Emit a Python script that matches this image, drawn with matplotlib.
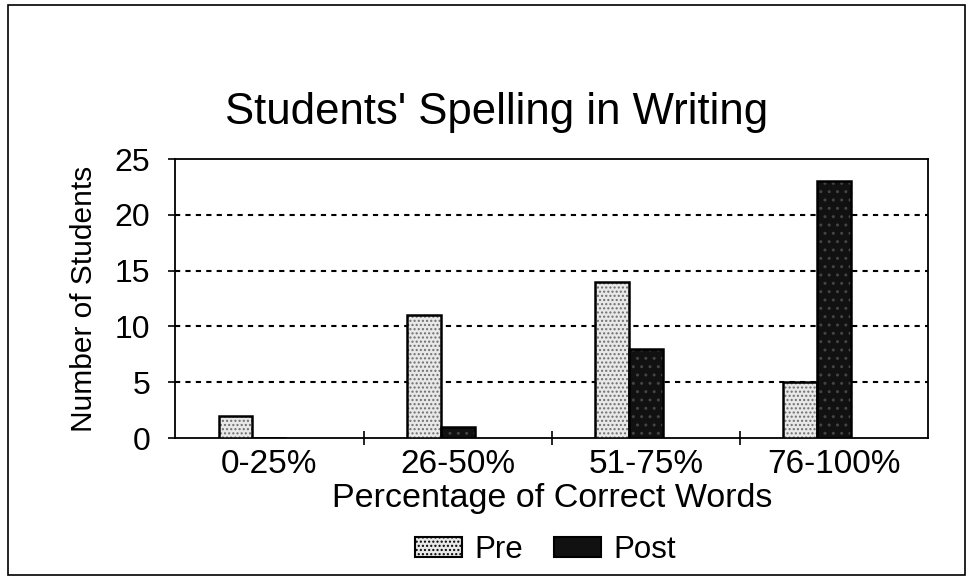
import matplotlib.pyplot as plt
import matplotlib.patches as mpatches
import numpy as np

plt.rcParams['font.family'] = ['Liberation Sans', 'DejaVu Sans']

categories = ["0-25%", "26-50%", "51-75%", "76-100%"]
pre = [2, 11, 14, 5]
post = [0, 1, 8, 23]

fig = plt.figure(figsize=(9.74, 5.82), dpi=100)
ax = fig.add_axes([0.180, 0.2474, 0.773, 0.4794])

x = np.arange(len(categories))
w = 0.18
# Pre: light stipple, Post: dark
ax.bar(x - w, pre, w, color="#e8e8e8", edgecolor="#6e6e6e", hatch="....", lw=0, zorder=3)
ax.bar(x - w, pre, w, fill=False, edgecolor="black", lw=1.8, zorder=4)
ax.bar(x, post, w, color="#111111", edgecolor="#444444", hatch="..", lw=0, zorder=3)
ax.bar(x, post, w, fill=False, edgecolor="black", lw=1.8, zorder=4)

ax.set_xlim(-0.5, 3.5)
ax.set_ylim(0, 25)
ax.set_yticks([0, 5, 10, 15, 20, 25])
ax.set_xticks(x)
ax.set_xticklabels(categories, fontsize=24)
ax.set_xticks([0.5, 1.5, 2.5], minor=True)
ax.tick_params(axis="x", which="major", length=0, pad=8)
ax.tick_params(axis="x", which="minor", direction="inout", length=10, width=1.2)
ax.tick_params(axis="y", labelsize=23, direction="out", length=5, width=1.2, pad=13)
for y in [5, 10, 15, 20]:
    ax.axhline(y, color="black", lw=1.5, ls=(0, (2.5, 2.5)), zorder=2)
for s in ax.spines.values():
    s.set_linewidth(1.3)

ax.set_ylabel("Number of Students", fontsize=21.5, labelpad=12)
ax.set_xlabel("Percentage of Correct Words", fontsize=24.5, labelpad=2)
fig.text(0.51, 1 - 124 / 582, "Students' Spelling in Writing", fontsize=31.5,
         ha="center", va="baseline")

h_pre = mpatches.Patch(facecolor="#e8e8e8", edgecolor="black", hatch="....", lw=1.5)
h_post = mpatches.Patch(facecolor="#111111", edgecolor="black", lw=1.5)
fig.legend([h_pre, h_post], ["Pre", "Post"], loc="center", bbox_to_anchor=(0.56, 0.055),
           ncol=2, frameon=False, fontsize=22.5, handlelength=1.5, handleheight=0.65,
           columnspacing=1.0, handletextpad=0.4)

fig.patches.append(mpatches.Rectangle((0.008, 0.012), 0.983, 0.98, transform=fig.transFigure,
                                      fill=False, edgecolor="black", lw=1.2))

fig.savefig("out.png", dpi=100)
